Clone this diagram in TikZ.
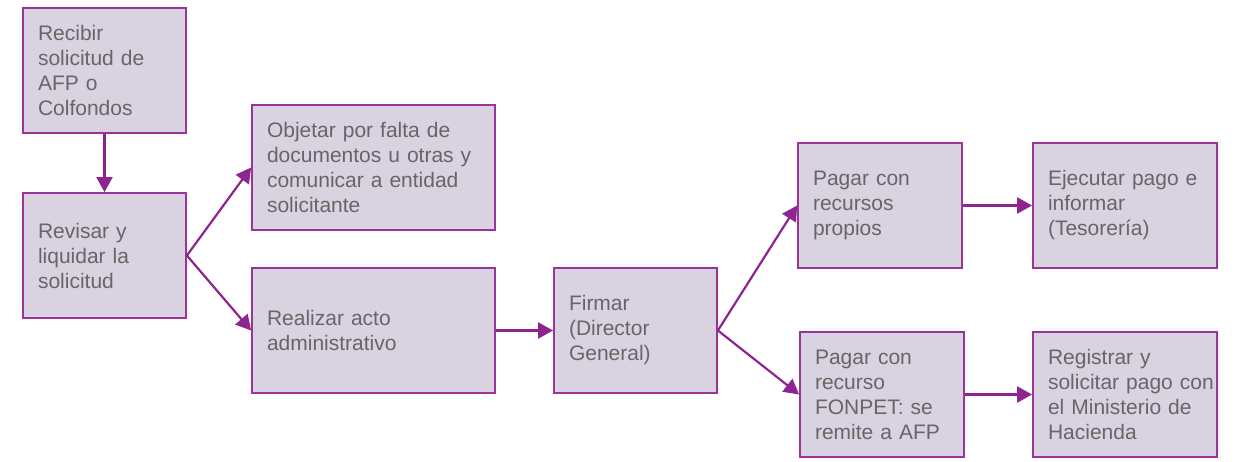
\documentclass[tikz,border=0pt]{standalone}
\usepackage{fontspec}
\setmainfont{Liberation Sans}
\usetikzlibrary{arrows.meta}
\definecolor{boxfill}{HTML}{D9D2E1}
\definecolor{boxline}{HTML}{9B3399}
\definecolor{arrowc}{HTML}{8E2490}
\definecolor{txt}{HTML}{666666}
\tikzset{
  stepbox/.style={draw=boxline, line width=1.8pt, fill=boxfill, rectangle,
    minimum height=125pt, inner xsep=15pt, inner ysep=0pt, align=left,
    text=txt, font=\fontsize{21pt}{25pt}\selectfont},
  narrow/.style={minimum width=163pt, text width=133pt},
  wide/.style={minimum width=243pt, text width=213pt},
  mid/.style={minimum width=184pt, text width=154pt},
  flow/.style={draw=arrowc, line width=2.2pt, -{Triangle[length=15pt,width=16pt]}}
}
\begin{document}
\begin{tikzpicture}[x=1pt,y=-1pt]
\useasboundingbox (0,0) rectangle (1236,462);
\node[stepbox,narrow] (b1) at (104.5,70.5) {Recibir\\solicitud de\\AFP o\\Colfondos};
\node[stepbox,narrow] (b2) at (104.5,255.5) {Revisar y\\liquidar la\\solicitud};
\node[stepbox,wide] (b3) at (373.5,167.5) {Objetar por falta de\\documentos u otras y\\comunicar a entidad\\solicitante};
\node[stepbox,wide] (b4) at (373.5,330.5) {Realizar acto\\administrativo};
\node[stepbox,narrow] (b5) at (635.5,330.5) {Firmar\\(Director\\General)};
\node[stepbox,minimum width=164pt,text width=134pt] (b6) at (880,205.5) {Pagar con\\recursos\\propios};
\node[stepbox,mid] (b7) at (1125,205.5) {Ejecutar pago e\\informar\\(Tesorería)};
\node[stepbox,minimum width=164pt,text width=134pt] (b8) at (882,394.5) {Pagar con\\recurso\\FONPET: se\\remite a AFP};
\node[stepbox,mid] (b9) at (1125,394.5) {Registrar y\\\mbox{solicitar pago con}\\el Ministerio de\\Hacienda};
\draw[flow] (b1.south) -- (b2.north);
\draw[flow] (b2.east) -- (b3.west);
\draw[flow] (b2.east) -- (b4.west);
\draw[flow] (b4.east) -- (b5.west);
\draw[flow] (b5.east) -- (b6.west);
\draw[flow] (b5.east) -- (b8.west);
\draw[flow] (b6.east) -- (b7.west);
\draw[flow] (b8.east) -- (b9.west);
\end{tikzpicture}
\end{document}
